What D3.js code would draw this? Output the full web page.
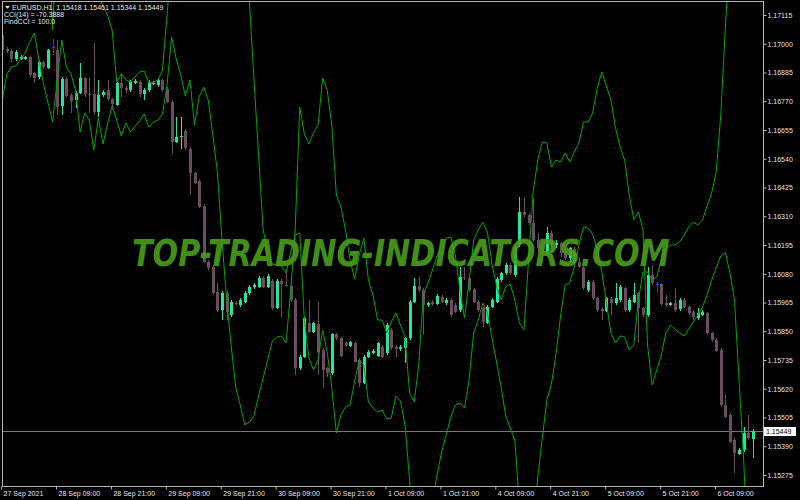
<!DOCTYPE html>
<html>
<head>
<meta charset="utf-8">
<script src="https://cdn.jsdelivr.net/npm/d3@7"></script>
<style>
body { margin: 0; background: #000; }
svg { display: block; }
.axis text { fill: #e4e0e4; font: 7px "Liberation Sans", Arial, sans-serif; }
.axis line { stroke: #b4b4b4; }
.info { fill: #e8e8e8; font: 7px "Liberation Sans", Arial, sans-serif; white-space: pre; }
</style>
</head>
<body>
<div id="chart"></div>
<script>
// EURUSD H1 candles, 27 Sep 21:00 .. 6 Oct
const opens = [1.17035,1.16978,1.16972,1.16938,1.16938,1.16940,1.16946,1.16882,1.16866,1.16928,1.16902,1.16988,1.16975,1.16751,1.16859,1.16795,1.16775,1.16804,1.16862,1.16799,
1.16798,1.16728,1.16796,1.16815,1.16778,1.16755,1.16842,1.16822,1.16815,1.16844,1.16848,1.16799,1.16815,1.16839,1.16835,1.16855,1.16818,1.16766,1.16608,1.16627,
1.16651,1.16579,1.16482,1.16451,1.16351,1.16128,1.16108,1.16006,1.15935,1.16004,1.15915,1.15964,1.15955,1.15968,1.16002,1.16026,1.16028,1.16064,1.16028,1.16052,
1.15942,1.16051,1.16035,1.16031,1.15975,1.15702,1.15748,1.15882,1.15848,1.15879,1.15775,1.15702,1.15682,1.15838,1.15822,1.15802,1.15792,1.15802,1.15735,1.15644,
1.15748,1.15764,1.15751,1.15788,1.15762,1.15855,1.15788,1.15778,1.15782,1.15822,1.15968,1.16031,1.16015,1.15955,1.15968,1.15959,1.15988,1.15962,1.15975,1.15955,
1.15935,1.16068,1.16064,1.16018,1.15968,1.15942,1.15884,1.15948,1.15968,1.16055,1.16082,1.16115,1.16075,1.16195,1.16328,1.16315,1.16282,1.16215,1.16182,1.16162,
1.16242,1.16195,1.16202,1.16162,1.16142,1.16178,1.16128,1.16108,1.16015,1.16048,1.15982,1.15938,1.15932,1.15978,1.15962,1.15975,1.16022,1.15935,1.15968,1.16002,
1.15942,1.15915,1.16075,1.16039,1.16039,1.15964,1.15955,1.15962,1.15938,1.15975,1.15948,1.15928,1.15902,1.15915,1.15924,1.15842,1.15815,1.15775,1.15555,1.15515,
1.15415,1.15359,1.15375,1.15444,1.15418];
const highs = [1.17048,1.16988,1.16978,1.16975,1.16955,1.16951,1.16951,1.16888,1.16935,1.16932,1.16978,1.17018,1.17015,1.16866,1.16868,1.16802,1.16812,1.16922,1.16868,1.16868,
1.17002,1.16855,1.16815,1.16855,1.16783,1.16848,1.16882,1.16831,1.16855,1.16858,1.16855,1.16822,1.16855,1.16850,1.16862,1.16860,1.16826,1.16775,1.16706,1.16706,
1.16658,1.16588,1.16488,1.16458,1.16359,1.16135,1.16115,1.16042,1.16012,1.16012,1.15975,1.15970,1.15982,1.16010,1.16035,1.16042,1.16071,1.16071,1.16079,1.16058,
1.16058,1.16058,1.16095,1.16038,1.15982,1.15755,1.15908,1.15975,1.15888,1.15968,1.15782,1.15708,1.15844,1.15844,1.15828,1.15808,1.15812,1.15808,1.15742,1.15755,
1.15775,1.15778,1.15808,1.15795,1.15882,1.15862,1.15795,1.15795,1.15828,1.15975,1.16062,1.16068,1.16022,1.15968,1.15975,1.15998,1.15995,1.15982,1.15982,1.15962,
1.16108,1.16108,1.16071,1.16024,1.15975,1.15948,1.15955,1.15982,1.16066,1.16088,1.16122,1.16122,1.16195,1.16388,1.16388,1.16322,1.16382,1.16242,1.16188,1.16268,
1.16255,1.16215,1.16208,1.16175,1.16188,1.16188,1.16148,1.16115,1.16055,1.16055,1.15988,1.15948,1.15988,1.15988,1.16042,1.16035,1.16028,1.15982,1.16042,1.16008,
1.15948,1.16108,1.16115,1.16048,1.16044,1.15995,1.15968,1.16022,1.15982,1.15982,1.15955,1.15935,1.15942,1.15935,1.15928,1.15848,1.15822,1.15782,1.15595,1.15522,
1.15422,1.15382,1.15468,1.15515,1.15461];
const lows = [1.16964,1.16962,1.16928,1.16932,1.16935,1.16935,1.16868,1.16844,1.16860,1.16900,1.16898,1.16955,1.16715,1.16715,1.16786,1.16722,1.16742,1.16799,1.16788,1.16722,
1.16715,1.16708,1.16788,1.16772,1.16735,1.16751,1.16788,1.16802,1.16808,1.16839,1.16788,1.16775,1.16808,1.16834,1.16828,1.16808,1.16762,1.16559,1.16602,1.16578,
1.16575,1.16395,1.16439,1.16342,1.16122,1.16095,1.15995,1.15928,1.15895,1.15895,1.15908,1.15954,1.15948,1.15962,1.15995,1.16020,1.16023,1.16023,1.16023,1.15935,
1.15938,1.15908,1.16026,1.15968,1.15675,1.15695,1.15742,1.15842,1.15842,1.15675,1.15622,1.15668,1.15675,1.15815,1.15746,1.15788,1.15786,1.15722,1.15628,1.15639,
1.15742,1.15759,1.15746,1.15742,1.15755,1.15775,1.15748,1.15772,1.15722,1.15815,1.15962,1.16008,1.15835,1.15948,1.15951,1.15954,1.15962,1.15955,1.15908,1.15922,
1.15928,1.16055,1.16008,1.15962,1.15928,1.15868,1.15879,1.15942,1.15962,1.16048,1.16075,1.16075,1.16068,1.16188,1.16308,1.16275,1.16208,1.16168,1.16122,1.16155,
1.16188,1.16182,1.16148,1.16135,1.16128,1.16122,1.16102,1.16015,1.16008,1.15975,1.15928,1.15895,1.15927,1.15915,1.15955,1.15968,1.15928,1.15928,1.15962,1.15802,
1.15908,1.15908,1.16035,1.16002,1.15951,1.15948,1.15951,1.15928,1.15932,1.15942,1.15915,1.15895,1.15895,1.15911,1.15835,1.15808,1.15767,1.15548,1.15502,1.15402,
1.15282,1.15355,1.15368,1.15415,1.15344];
const closes = [1.16975,1.16972,1.16938,1.16968,1.16946,1.16946,1.16875,1.16862,1.16928,1.16906,1.16975,1.16988,1.16748,1.16859,1.16792,1.16772,1.16804,1.16864,1.16798,1.16794,
1.16728,1.16795,1.16807,1.16778,1.16759,1.16842,1.16822,1.16815,1.16848,1.16851,1.16798,1.16815,1.16848,1.16844,1.16855,1.16815,1.16768,1.16608,1.16628,1.16632,
1.16582,1.16482,1.16444,1.16348,1.16128,1.16102,1.16002,1.15935,1.16004,1.15928,1.15968,1.15959,1.15975,1.16004,1.16028,1.16035,1.16064,1.16028,1.16072,1.15942,
1.16051,1.16038,1.16031,1.15975,1.15702,1.15748,1.15902,1.15848,1.15882,1.15768,1.15695,1.15682,1.15838,1.15822,1.15751,1.15795,1.15806,1.15728,1.15644,1.15748,
1.15768,1.15772,1.15802,1.15748,1.15875,1.15782,1.15778,1.15788,1.15822,1.15968,1.16031,1.16015,1.15955,1.15962,1.15959,1.15991,1.15968,1.15975,1.15915,1.15928,
1.16068,1.16062,1.16015,1.15968,1.15935,1.15888,1.15948,1.15975,1.16058,1.16082,1.16115,1.16082,1.16188,1.16326,1.16315,1.16282,1.16215,1.16182,1.16162,1.16242,
1.16195,1.16204,1.16162,1.16142,1.16182,1.16128,1.16108,1.16022,1.16048,1.15982,1.15935,1.15932,1.15982,1.15962,1.15982,1.16026,1.15935,1.15975,1.15995,1.15942,
1.15915,1.16075,1.16042,1.16039,1.15959,1.15955,1.15962,1.15935,1.15975,1.15948,1.15922,1.15908,1.15922,1.15928,1.15842,1.15815,1.15772,1.15555,1.15508,1.15408,
1.15362,1.15375,1.15442,1.15422,1.15449];

// the two FindCCI lines drawn on the price chart (values past the frame are clipped)
const lineA = [1.16775,1.16879,1.16907,1.16911,1.16939,1.16963,1.17007,1.17043,1.16935,1.16839,1.16763,1.16687,1.16855,1.17015,1.16907,1.16879,1.16815,1.16647,1.16723,1.16695,
1.16575,1.16703,1.16599,1.16679,1.16751,1.16695,1.16631,1.16683,1.16647,1.16671,1.16691,1.16719,1.16667,1.16687,1.16695,1.16719,1.16835,1.17027,1.16939,1.16875,
1.16791,1.16855,1.16675,1.16787,1.16827,1.16775,1.16635,1.16487,1.16215,1.15983,1.15795,1.15627,1.15555,1.15475,1.15487,1.15511,1.15591,1.15663,1.15735,1.15811,
1.15827,1.15831,1.15803,1.16007,1.16255,1.16747,1.16639,1.16599,1.16643,1.16675,1.16863,1.16815,1.16675,1.16395,1.16347,1.16255,1.16135,1.16059,1.16155,1.16223,
1.16055,1.15995,1.15895,1.15895,1.15843,1.15887,1.15923,1.15875,1.15827,1.15603,1.15567,1.15715,1.15995,1.16043,1.16095,1.16151,1.16199,1.16223,1.16227,1.16155,
1.16015,1.15903,1.16047,1.16215,1.16255,1.16287,1.16247,1.16119,1.16031,1.15975,1.16027,1.16039,1.15975,1.15883,1.15855,1.16135,1.16407,1.16535,1.16607,1.16603,
1.16507,1.16535,1.16527,1.16563,1.16527,1.16567,1.16603,1.16687,1.16687,1.16723,1.16823,1.16887,1.16831,1.16775,1.16663,1.16587,1.16535,1.16395,1.16295,1.16327,
1.16255,1.15795,1.15635,1.15695,1.15755,1.15843,1.15875,1.15859,1.15843,1.15831,1.15859,1.15887,1.15915,1.15947,1.15995,1.16055,1.16103,1.16151,1.16165,1.16083,
1.15975,1.15655,1.15335,1.14935,1.14575];
const lineB = [1.17535,1.17575,1.17615,1.17655,1.17655,1.17695,1.17695,1.17655,1.17615,1.17575,1.17495,1.17055,1.17495,1.17655,1.17735,1.17775,1.17735,1.17655,1.17535,1.17415,
1.17275,1.17195,1.17151,1.17115,1.17055,1.16847,1.16879,1.16855,1.16847,1.16867,1.16887,1.16891,1.16843,1.16847,1.16855,1.16895,1.17115,1.17335,1.17535,1.17695,
1.17815,1.17895,1.17935,1.17975,1.17975,1.17935,1.17895,1.17855,1.17815,1.17775,1.17695,1.17615,1.17535,1.17475,1.17167,1.16855,1.16555,1.16255,1.16171,1.16119,
1.16115,1.16111,1.16083,1.16167,1.16235,1.16243,1.15895,1.15743,1.15695,1.15735,1.15855,1.15767,1.15623,1.15443,1.15515,1.15547,1.15555,1.15651,1.15735,1.15715,
1.15567,1.15543,1.15527,1.15535,1.15499,1.15503,1.15591,1.15571,1.15475,1.15255,1.15055,1.14935,1.14935,1.15015,1.15175,1.15275,1.15367,1.15435,1.15507,1.15555,
1.15563,1.15543,1.15655,1.15843,1.15895,1.15963,1.15927,1.15823,1.15727,1.15627,1.15511,1.15463,1.15415,1.15155,1.14975,1.14935,1.15055,1.15263,1.15423,1.15575,
1.15639,1.15759,1.15911,1.16035,1.16043,1.16107,1.16195,1.16267,1.16263,1.16239,1.16179,1.16087,1.15967,1.15843,1.15803,1.15831,1.15827,1.15775,1.15795,1.15975,
1.16087,1.16087,1.16055,1.16067,1.16135,1.16179,1.16195,1.16195,1.16207,1.16235,1.16267,1.16287,1.16275,1.16295,1.16351,1.16403,1.16487,1.16715,1.17063,1.17375,
1.17695,1.17975,1.18215,1.18375,1.18495];

const priceTicks = [1.17115,1.17000,1.16885,1.16770,1.16655,1.16540,1.16425,1.16310,1.16195,1.16080,1.15965,1.15850,1.15735,1.15620,1.15505,1.15390,1.15275];
const timeTicks = [0,12,24,36,48,60,72,84,96,108,120,132,144,156];
const timeLabels = ["27 Sep 2021","28 Sep 09:00","28 Sep 21:00","29 Sep 09:00","29 Sep 21:00","30 Sep 09:00","30 Sep 21:00",
  "1 Oct 09:00","1 Oct 21:00","4 Oct 09:00","4 Oct 21:00","5 Oct 09:00","5 Oct 21:00","6 Oct 09:00"];
const bid = 1.15449;

const width = 800, height = 500;
const frame = {left: 2, top: 2, right: 763, bottom: 486};
const bullColor = "#1ee8a2", bearColor = "#6b4d60", dojiColor = "#2438ff";

const svg = d3.select("#chart").append("svg")
  .attr("width", width)
  .attr("height", height)
  .style("background", "#000");

const xScale = d3.scaleLinear().domain([0, closes.length - 1]).range([2.3, 752.8]);
const yScale = d3.scaleLinear().domain([1.15275, 1.17115]).range([475, 15]);

svg.append("clipPath").attr("id", "plot")
  .append("rect")
  .attr("x", frame.left).attr("y", frame.top)
  .attr("width", frame.right - frame.left).attr("height", frame.bottom - frame.top);

const plot = svg.append("g").attr("clip-path", "url(#plot)");

// bid line
const yBid = Math.round(yScale(bid)) + 0.5;
plot.append("line")
  .attr("x1", frame.left).attr("x2", frame.right)
  .attr("y1", yBid).attr("y2", yBid)
  .attr("stroke", "#7a7478");

// candles
const bars = d3.range(closes.length).map(i => ({
  i, o: opens[i], h: highs[i], l: lows[i], c: closes[i]
}));
const colorOf = d => d.c > d.o ? bullColor : (d.c < d.o ? bearColor : dojiColor);

const candle = plot.append("g").attr("shape-rendering", "crispEdges")
  .selectAll("g").data(bars).join("g");

candle.append("rect")
  .attr("x", d => Math.round(xScale(d.i)))
  .attr("width", 1)
  .attr("y", d => Math.round(yScale(d.h)))
  .attr("height", d => Math.max(1, Math.round(yScale(d.l)) - Math.round(yScale(d.h))))
  .attr("fill", colorOf);

candle.append("rect")
  .attr("x", d => Math.round(xScale(d.i)) - 1)
  .attr("width", 3)
  .attr("y", d => Math.round(yScale(Math.max(d.o, d.c))))
  .attr("height", d => Math.max(1, Math.round(yScale(Math.min(d.o, d.c))) - Math.round(yScale(Math.max(d.o, d.c)))))
  .attr("fill", colorOf);

// indicator lines
const line = d3.line().x((d, i) => xScale(i)).y(d => yScale(d));
[lineA, lineB].forEach(s => {
  plot.append("path")
    .datum(s)
    .attr("d", line)
    .attr("fill", "none")
    .attr("stroke", "#00a800")
    .attr("stroke-width", 1);
});

// watermark, squeezed to its width with a transform
const mark = plot.append("text")
  .attr("x", 0).attr("y", 0)
  .style("font", "italic bold 37px 'DejaVu Sans', sans-serif")
  .attr("fill", "#4a9e1a")
  .attr("opacity", 0.9)
  .text("TOP-TRADING-INDICATORS.COM");
const markW = mark.node().getComputedTextLength();
mark.attr("transform", `translate(132,266) scale(${538 / markW},1)`);

// frame
svg.append("rect")
  .attr("x", frame.left + 0.5).attr("y", frame.top - 0.5)
  .attr("width", frame.right - frame.left).attr("height", frame.bottom - frame.top + 1)
  .attr("fill", "none").attr("stroke", "#b4b4b4");

// price axis
const yAxis = d3.axisRight(yScale)
  .tickValues(priceTicks)
  .tickSize(3)
  .tickPadding(1)
  .tickFormat(d3.format(".5f"));
svg.append("g")
  .attr("class", "axis")
  .attr("transform", `translate(${frame.right + 0.5},0)`)
  .call(yAxis)
  .call(g => g.select(".domain").remove());

// time axis
const xAxis = d3.axisBottom(xScale)
  .tickValues(timeTicks)
  .tickSize(3)
  .tickPadding(1.5)
  .tickFormat((d, i) => timeLabels[i]);
svg.append("g")
  .attr("class", "axis")
  .attr("transform", `translate(-1.2,${frame.bottom + 0.5})`)
  .call(xAxis)
  .call(g => g.select(".domain").remove())
  .call(g => g.selectAll("text").attr("text-anchor", "start").attr("x", 2));

// current price label
svg.append("rect")
  .attr("x", 764).attr("y", yBid - 4.5)
  .attr("width", 32).attr("height", 9)
  .attr("fill", "#fff");
svg.append("text")
  .attr("x", 766).attr("y", yBid)
  .attr("dy", "0.34em")
  .style("font", "7px 'Liberation Sans', Arial, sans-serif")
  .attr("fill", "#000")
  .text(d3.format(".5f")(bid));

// header
svg.append("path")
  .attr("d", "M5,6 L10,6 L7.5,8.8 Z")
  .attr("fill", "#e8e8e8");
const info = [
  {x: 12, y: 9.5, t: "EURUSD,H1  1.15418 1.15461 1.15344 1.15449"},
  {x: 4, y: 17, t: "CCI(14) = -70.3888"},
  {x: 4, y: 24, t: "FindCCI = 100.0"}
];
svg.selectAll("text.info").data(info).join("text")
  .attr("class", "info")
  .attr("x", d => d.x).attr("y", d => d.y)
  .text(d => d.t);
</script>
</body>
</html>
